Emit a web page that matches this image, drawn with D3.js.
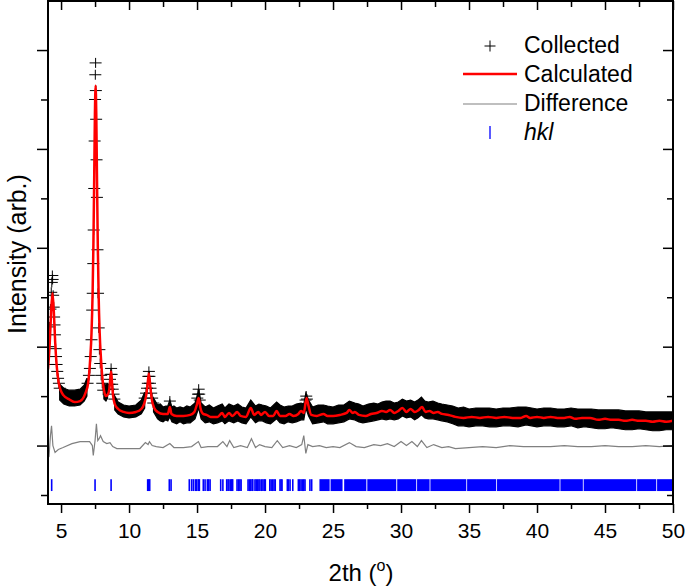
<!DOCTYPE html>
<html><head><meta charset="utf-8">
<script src="https://cdn.jsdelivr.net/npm/d3@7"></script>
<style>
body{margin:0;background:#fff}
svg{display:block}
text{font-family:"Liberation Sans",Arial,Helvetica,sans-serif}
</style>
</head><body>
<svg id="chart" width="685" height="588"></svg>
<script>
// ---------- data (2θ in degrees, intensity in arbitrary units) ----------
const calcData = [
[4.04,127],[4.17,154],[4.27,185],[4.37,204],[4.47,185],[4.57,154],[4.67,132],[4.82,114],[4.97,106],[5.17,101],[5.57,97],[6.0,94],[6.4,95],[6.79,103],[6.99,113],[7.14,137],[7.24,164],[7.32,204],[7.38,254],[7.44,324],[7.49,385],[7.54,414],[7.59,385],[7.64,324],[7.70,254],[7.76,204],[7.84,164],[7.94,137],[8.09,112],[8.3,100],[8.45,102],[8.55,107],[8.62,117],[8.68,125],[8.74,115],[8.82,101],[8.95,92],[9.2,87],[9.6,84],[10.0,83],[10.5,84],[10.9,87],[11.1,92],[11.25,100],[11.35,110],[11.46,123],[11.56,110],[11.67,97],[11.85,88],[12.1,84],[12.5,82],[12.85,82],[13.0,89],[13.12,82],[13.5,80],[14.0,80],[14.5,81],[14.8,84],[15.0,92],[15.12,98],[15.25,88],[15.45,82],[15.7,81],[16.0,79],[16.5,79],[16.85,83],[17.05,79],[17.35,83],[17.6,80],[17.95,84],[18.2,80],[18.6,79],[18.95,88],[19.2,81],[19.5,84],[19.7,81],[20.0,84],[20.3,80],[20.6,80],[20.85,85],[21.1,80],[21.5,80],[21.8,82],[22.1,80],[22.45,82],[22.65,85],[22.85,83],[23.05,98],[23.2,90],[23.4,81],[23.8,80],[24.3,82],[24.6,80],[25.0,80],[25.5,81],[26.0,83],[26.2,86],[26.45,83],[26.6,84],[26.9,81],[27.4,80],[27.8,82],[28.2,83],[28.6,85],[28.9,84],[29.2,86],[29.5,83],[29.8,85],[30.1,88],[30.4,84],[30.7,87],[31.0,84],[31.3,86],[31.55,89],[31.8,84],[32.1,85],[32.4,83],[32.7,84],[33.0,82],[33.5,81],[34.0,79],[34.6,78],[35.2,79],[35.8,78],[36.4,79],[37.0,78],[37.6,79],[38.2,78],[38.8,78],[39.2,80],[39.5,78],[40.0,79],[40.5,78],[41.0,79],[41.5,78],[42.0,78],[42.4,79],[42.8,77],[43.3,78],[43.9,78],[44.5,76],[45.0,77],[45.5,76],[46.0,76],[46.5,75],[47.0,76],[47.5,75],[48.0,75],[48.5,74],[49.0,75],[49.5,74],[50.0,75]
];

// individually visible collected points on the peaks
const obsPeaks = [
[4.05,132],[4.1,150],[4.16,170],[4.22,188],[4.28,205],[4.32,215],[4.36,222],[4.38,218],[4.42,202],[4.46,190],[4.49,180],[4.52,172],[4.55,162],[4.6,148],[4.63,140],[4.67,132],[4.72,125],[4.78,118],[4.84,113],[4.9,108],
[6.95,113],[7.05,121],[7.12,128],[7.18,140],[7.24,157],[7.29,187],[7.33,204],[7.37,234],[7.4,268],[7.44,310],[7.47,358],[7.5,400],[7.52,425],[7.54,437],[7.56,409],[7.58,380],[7.61,339],[7.64,301],[7.68,248],[7.72,204],[7.77,169],[7.82,147],[7.88,133],[7.95,121],[8.03,113],[8.1,106],
[8.5,107],[8.56,112],[8.6,117],[8.64,122],[8.68,128],[8.72,122],[8.76,112],[8.8,107],[8.86,102],[8.92,97],
[11.15,98],[11.25,103],[11.32,108],[11.38,113],[11.42,120],[11.46,125],[11.5,120],[11.54,113],[11.58,108],[11.63,103],[11.7,98],[11.78,93],
[13.0,95],[15.02,98],[15.07,102],[15.12,107],[15.16,102],[15.2,96],[22.98,96],[23.03,100],[23.08,97]
];

// dense collected points: [2θ, lower, upper] envelope of the black band
const obsBand = [
[4.9,96,112],[5.2,92,108],[5.6,90,106],[6.0,90,106],[6.4,91,107],[6.7,95,111],[6.9,100,118],[7.0,null,null],
[8.15,97,113],[8.3,95,110],[8.42,98,113],[8.5,null,null],
[8.95,86,100],[9.2,82,94],[9.6,79,91],[10.0,78,90],[10.5,79,91],[10.9,82,96],[11.15,88,104],[11.3,null,null],
[11.8,84,98],[12.1,77,91],[12.3,75,92],[12.5,74,89],[12.7,76,90],[12.85,75,90],[13.0,79,96],[13.15,74,89],[13.3,73,90],[13.5,72,88],[13.75,74,89],[14.0,72,88],[14.25,73,90],[14.5,73,89],[14.85,77,93],[15.0,83,100],[15.12,88,106],[15.3,77,93],[15.6,73,89],[15.9,74,91],[16.2,72,88],[16.5,73,90],[16.85,75,92],[17.05,72,88],[17.35,75,92],[17.7,73,90],[18.0,75,92],[18.3,73,89],[18.6,72,88],[18.95,79,96],[19.3,73,90],[19.55,75,92],[19.8,75,91],[20.1,73,90],[20.4,72,88],[20.85,77,94],[21.1,73,91],[21.4,72,89],[21.7,74,90],[22.0,73,90],[22.3,74,92],[22.65,76,93],[22.85,76,92],[23.0,88,103],[23.2,80,96],[23.5,72,89],[23.9,73,91],[24.3,74,91],[24.6,72,90],[25.0,72,89],[25.4,73,91],[25.8,74,91],[26.2,77,95],[26.6,76,93],[26.9,74,92],[27.2,73,90],[27.6,74,92],[28.0,75,93],[28.3,76,92],[28.6,77,94],[28.9,76,95],[29.2,77,95],[29.5,76,93],[29.8,77,94],[30.1,80,97],[30.4,78,95],[30.7,79,96],[31.0,76,94],[31.25,78,96],[31.5,81,99],[31.75,78,95],[32.0,77,94],[32.35,77,95],[32.7,76,93],[33.0,75,92],[33.4,74,91],[33.8,72,90],[34.2,70,88],[34.6,70,89],[35.0,69,87],[35.5,70,88],[36.0,70,88],[36.5,69,88],[37.0,69,87],[37.5,70,88],[38.0,70,88],[38.6,69,89],[39.2,71,89],[39.6,70,88],[40.0,69,87],[40.5,70,88],[41.0,70,88],[41.5,69,87],[42.0,69,87],[42.5,70,88],[43.0,68,87],[43.5,69,87],[44.0,68,87],[44.5,67,86],[45.0,67,86],[45.5,68,86],[46.0,67,86],[46.5,66,85],[47.0,66,85],[47.5,67,85],[48.0,66,84],[48.5,65,84],[49.0,65,84],[49.5,66,84],[50.0,66,84]
];

// difference (observed - calculated), drawn around diffOffset
const diffOffset = 50;
const diffData = [
[4.04,-8],[4.12,-10],[4.22,10],[4.3,20],[4.4,0],[4.56,-7],[4.8,-4],[5.15,-2],[5.8,2],[6.4,4],[7.1,4],[7.3,0],[7.37,-10],[7.5,5],[7.6,22],[7.7,5],[7.8,7],[7.9,10],[8.1,4],[8.36,2],[8.6,3],[8.8,-1],[9.1,-3],[10.0,-3],[10.8,-3],[11.2,3],[11.4,1],[11.5,4],[11.7,0],[12.0,-1],[12.5,-2],[13.0,2],[13.3,-2],[14.0,-2],[14.6,-1],[15.1,4],[15.3,-2],[15.8,-1],[16.5,-1],[16.9,4],[17.2,-1],[17.4,5],[17.7,-2],[18.2,0],[18.7,-2],[19.0,7],[19.3,-2],[19.6,1],[20.0,-1],[20.5,-2],[20.9,5],[21.3,-2],[21.8,0],[22.3,-2],[22.7,1],[22.85,10],[23.0,-8],[23.15,1],[23.5,-1],[24.0,0],[24.5,-2],[25.0,-1],[25.5,-2],[26.2,3],[26.7,-1],[27.3,-2],[28.0,1],[28.5,0],[29.0,2],[29.5,-1],[30.0,4],[30.4,0],[30.8,4],[31.2,-1],[31.5,5],[31.9,-2],[32.4,1],[33.0,-2],[33.5,-1],[34.0,-3],[35.0,-2],[36.0,-1],[37.0,-2],[38.0,0],[39.0,-1],[40.0,-1],[41.0,-1],[42.0,0],[43.0,-1],[44.0,-1],[45.0,0],[46.0,-1],[47.0,-1],[48.0,0],[49.0,-1],[50.0,0]
];

// hkl reflection positions
const hklLines = [4.31,7.5,8.68,11.37,11.45,11.52,12.96,13.09,14.43,14.6,14.73,14.88,14.98,15.1,15.17,15.46,15.59,15.76,15.85,15.96,16.74,16.9,17.18,17.28,17.35,17.47,17.55,17.62,17.94,18.05,18.15,18.24,18.75,18.85,18.95,19.05,19.1,19.26,19.35,19.45,19.55,19.63,19.76,19.85,19.95,20.02,20.35,20.45,20.56,20.66,20.75,21.1,21.18,21.25,21.64,21.72,21.84,22.04,22.45,22.55,22.65,22.75,22.85,22.94,23.3,23.43];
const hklBands = [[24.0,24.75],[24.82,25.7],[25.82,27.45],[27.52,29.65],[29.72,31.12],[31.18,32.1],[32.16,34.8],[34.86,37.0],[37.06,41.66],[41.72,43.37],[43.43,47.3],[47.36,48.77],[48.83,50]];
const hklRange = [4, 16];

const xMajor = [5,10,15,20,25,30,35,40,45,50];
const xMinor = [7.5,12.5,17.5,22.5,27.5,32.5,37.5,42.5,47.5];
const yMajor = [50,150,250,350,450];
const yMinor = [0,100,200,300,400];

const legendItems = ["Collected","Calculated","Difference","hkl"];

// ---------- drawing ----------
const L=48, R=673, T=1, B=504;
const svg = d3.select("#chart");
const x = d3.scaleLinear().domain([4.04,50]).range([L,R]);
const y = d3.scaleLinear().domain([-9.1,499.6]).range([B,T]);

svg.append("defs").append("clipPath").attr("id","clip")
  .append("rect").attr("x",L).attr("y",T).attr("width",R-L).attr("height",B-T);
const g = svg.append("g").attr("clip-path","url(#clip)");

// band of dense collected points
g.append("path").datum(obsBand)
  .attr("d", d3.area().defined(d=>d[1]!=null).x(d=>x(d[0])).y0(d=>y(d[1])).y1(d=>y(d[2])))
  .attr("fill","#000").attr("stroke","#000").attr("stroke-width",1.2);

// crosses
const cross = "M-6,0H6M0,-5V5";
g.selectAll(".obs").data(obsPeaks).join("path")
  .attr("d",cross).attr("transform",d=>`translate(${x(d[0])},${y(d[1])})`)
  .attr("stroke","#000").attr("stroke-width",1).attr("fill","none");

// calculated
g.append("path").datum(calcData)
  .attr("d", d3.line().x(d=>x(d[0])).y(d=>y(d[1])).curve(d3.curveMonotoneX))
  .attr("fill","none").attr("stroke","#ff0000").attr("stroke-width",2.5);

// difference
g.append("path").datum(diffData)
  .attr("d", d3.line().x(d=>x(d[0])).y(d=>y(d[1]+diffOffset)))
  .attr("fill","none").attr("stroke","#808080").attr("stroke-width",1.2);

// hkl
g.selectAll(".hkl").data(hklLines).join("line")
  .attr("x1",d=>x(d)).attr("x2",d=>x(d))
  .attr("y1",y(hklRange[0])).attr("y2",y(hklRange[1]))
  .attr("stroke","#0000ff").attr("stroke-width",1.6);
g.selectAll(".hklb").data(hklBands).join("rect")
  .attr("x",d=>x(d[0])).attr("width",d=>x(d[1])-x(d[0]))
  .attr("y",y(hklRange[1])).attr("height",y(hklRange[0])-y(hklRange[1]))
  .attr("fill","#0000ff");

// axes
function styleAxis(sel){ sel.select(".domain").remove(); sel.selectAll("line").attr("stroke","#000").attr("stroke-width",1.5); sel.selectAll("text").attr("font-size",21).attr("fill","#000"); }
svg.append("g").attr("transform",`translate(0,${B})`)
  .call(d3.axisBottom(x).tickValues(xMajor).tickSize(9).tickPadding(10).tickFormat(d3.format("d"))).call(styleAxis);
svg.append("g").attr("transform",`translate(0,${B})`)
  .call(d3.axisBottom(x).tickValues(xMinor).tickSize(5).tickFormat("")).call(styleAxis);
svg.append("g").attr("transform",`translate(0,${T})`)
  .call(d3.axisTop(x).tickValues(xMajor).tickSize(-9).tickFormat("")).call(styleAxis);
svg.append("g").attr("transform",`translate(0,${T})`)
  .call(d3.axisTop(x).tickValues(xMinor).tickSize(-6).tickFormat("")).call(styleAxis);
svg.append("g").attr("transform",`translate(${L},0)`)
  .call(d3.axisLeft(y).tickValues(yMajor).tickSize(11).tickFormat("")).call(styleAxis);
svg.append("g").attr("transform",`translate(${L},0)`)
  .call(d3.axisLeft(y).tickValues(yMinor).tickSize(7).tickFormat("")).call(styleAxis);
svg.append("g").attr("transform",`translate(${R},0)`)
  .call(d3.axisRight(y).tickValues(yMajor).tickSize(-10).tickFormat("")).call(styleAxis);
svg.append("g").attr("transform",`translate(${R},0)`)
  .call(d3.axisRight(y).tickValues(yMinor).tickSize(-6).tickFormat("")).call(styleAxis);

svg.append("rect").attr("x",L).attr("y",T).attr("width",R-L).attr("height",B-T)
  .attr("fill","none").attr("stroke","#000").attr("stroke-width",2);

// axis titles
const xt = svg.append("text").attr("x",361).attr("y",581).attr("text-anchor","middle").attr("font-size",24).attr("fill","#000");
xt.append("tspan").text("2th (");
xt.append("tspan").text("o").attr("font-size",16).attr("dy",-10);
xt.append("tspan").text(")").attr("dy",10);
svg.append("text").attr("transform","translate(26,254) rotate(-90)")
  .attr("text-anchor","middle").attr("font-size",25).attr("fill","#000").text("Intensity (arb.)");

// legend
const lg = svg.append("g");
const rowY = [46,74,104,132];
const baseY = [53,82,111,140];
lg.append("path").attr("d","M-5.5,0H5.5M0,-5.5V5.5").attr("transform",`translate(490,${rowY[0]})`).attr("stroke","#000").attr("stroke-width",1);
lg.append("line").attr("x1",463).attr("x2",517).attr("y1",rowY[1]).attr("y2",rowY[1]).attr("stroke","#ff0000").attr("stroke-width",2.5);
lg.append("line").attr("x1",463).attr("x2",517).attr("y1",rowY[2]).attr("y2",rowY[2]).attr("stroke","#808080").attr("stroke-width",1.2);
lg.append("line").attr("x1",490).attr("x2",490).attr("y1",126).attr("y2",139).attr("stroke","#0000ff").attr("stroke-width",1.3);
lg.selectAll("text").data(legendItems).join("text")
  .attr("x",524).attr("y",(d,i)=>baseY[i]).attr("font-size",23).attr("fill","#000")
  .attr("font-style",d=>d==="hkl"?"italic":"normal").text(d=>d);
</script>
</body></html>
